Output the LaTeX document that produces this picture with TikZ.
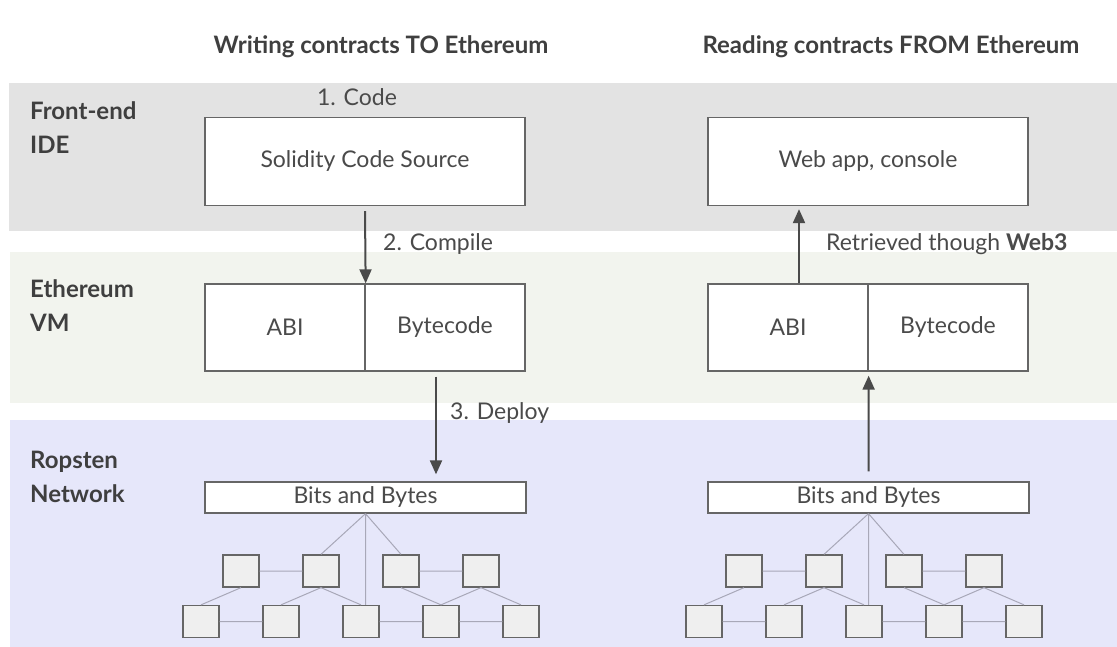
\documentclass[tikz,border=0pt]{standalone}
\usepackage{fontspec}
\setmainfont{Lato}
\usetikzlibrary{arrows.meta,calc}
\definecolor{bandgrey}{HTML}{E3E3E3}
\definecolor{bandgreen}{HTML}{F2F4EE}
\definecolor{bandblue}{HTML}{E6E7FA}
\definecolor{ink}{HTML}{4A4A4A}
\definecolor{edge}{HTML}{666666}
\definecolor{wire}{HTML}{A8A8B8}
\definecolor{peer}{HTML}{EFEFEF}

\begin{document}
\begin{tikzpicture}[x=1pt, y=-1pt,
        box/.style={draw=edge, line width=1.3pt, fill=white, inner sep=0pt, text=ink, font=\fontsize{23}{26}\selectfont},
        peerbox/.style={draw=edge, line width=1.3pt, fill=peer, minimum width=36pt, minimum height=32pt, inner sep=0pt},
        wireline/.style={draw=wire, line width=1pt},
        flow/.style={draw=ink, line width=2pt, -{Triangle[length=14pt,width=12pt]}},
        stepnote/.style={text=ink, font=\fontsize{23}{26}\selectfont, inner sep=0pt, anchor=base west},
        bandlabel/.style={text=ink!85!black, font=\fontsize{24}{33.5}\selectfont\bfseries, align=left, anchor=north west, inner sep=0pt},
        coltitle/.style={text=ink!85!black, font=\fontsize{24}{28}\selectfont\bfseries, inner sep=0pt, anchor=base}]
        \useasboundingbox (0,0) rectangle (1117,647);

        \fill[bandgrey] (9,83) rectangle (1117,231);
        \fill[bandgreen] (10,252) rectangle (1117,403);
        \fill[bandblue] (10,420) rectangle (1117,647);

        \node[coltitle] (wtitle) at (381,54) {Writing contracts TO Ethereum};
        \node[coltitle] (rtitle) at (891,54) {Reading contracts FROM Ethereum};

        \node[bandlabel] (ide) at (30,101.5) {Front-end\\IDE};
        \node[bandlabel] (evm) at (30,279.5) {Ethereum\\VM};
        \node[bandlabel] (net) at (30,451) {Ropsten\\Network};

        \node[box, minimum width=320pt, minimum height=88pt] (src) at (365,161.5) {Solidity Code Source};
        \node[stepnote, anchor=base] (code) at (357,106) {1. Code};
        \node[box, minimum width=160pt, minimum height=87pt] (labi) at (285,327.5) {ABI};
        \node[box, minimum width=160pt, minimum height=87pt] (lbyte) at (445,327.5) {Bytecode};
        \node[box, minimum width=321pt, minimum height=31pt] (lbits) at (365.5,497.5) {Bits and Bytes};

        \node[box, minimum width=320pt, minimum height=88pt] (webapp) at (868,161.5) {Web app, console};
        \node[box, minimum width=160pt, minimum height=87pt] (rabi) at (788,327.5) {ABI};
        \node[box, minimum width=160pt, minimum height=87pt] (rbyte) at (948,327.5) {Bytecode};
        \node[box, minimum width=321pt, minimum height=31pt] (rbits) at (868.5,497.5) {Bits and Bytes};

        \draw[flow] ($(src.south)+(0,5)$) -- (labi.north east);
        \node[stepnote] (compile) at (383,251) {2. Compile};
        \draw[flow] ($(lbyte.south)+(-9,5)$) -- ($(lbyte.south |- lbits.north)+(-9,-7)$);
        \node[stepnote] (deploy) at (450,419) {3. Deploy};

        \draw[flow] ($(rabi.north)+(11,0)$) -- ($(rabi.north |- webapp.south)+(11,3)$);
        \node[stepnote] (web3) at (826,251) {Retrieved though \textbf{Web3}};
        \draw[flow] ($(rbits.north)+(0,-10)$) -- ($(rabi.south east)+(0,4)$);

        \node[peerbox] (lt1) at (241,571) {};
        \node[peerbox] (lt2) at (321,571) {};
        \node[peerbox] (lt3) at (401,571) {};
        \node[peerbox] (lt4) at (481,571) {};
        \node[peerbox] (lb1) at (201,621.5) {};
        \node[peerbox] (lb2) at (281,621.5) {};
        \node[peerbox] (lb3) at (361,621.5) {};
        \node[peerbox] (lb4) at (441,621.5) {};
        \node[peerbox] (lb5) at (521,621.5) {};
        \draw[wireline] (lbits.south) -- (lt2.north) (lbits.south) -- (lt3.north) (lbits.south) -- (lbits.south |- lb3.north)
            (lt1) -- (lt2) (lt3) -- (lt4) (lb1) -- (lb2) (lb3) -- (lb4) (lb4) -- (lb5)
            (lt1.south) -- (lb1.north) (lt2.south) -- (lb2.north) (lt2.south) -- (lb3.north)
            (lt3.south) -- (lb4.north) (lt4.south) -- (lb4.north) (lt4.south) -- (lb5.north);

        \node[peerbox] (rt1) at (744,571) {};
        \node[peerbox] (rt2) at (824,571) {};
        \node[peerbox] (rt3) at (904,571) {};
        \node[peerbox] (rt4) at (984,571) {};
        \node[peerbox] (rb1) at (704,621.5) {};
        \node[peerbox] (rb2) at (784,621.5) {};
        \node[peerbox] (rb3) at (864,621.5) {};
        \node[peerbox] (rb4) at (944,621.5) {};
        \node[peerbox] (rb5) at (1024,621.5) {};
        \draw[wireline] (rbits.south) -- (rt2.north) (rbits.south) -- (rt3.north) (rbits.south) -- (rbits.south |- rb3.north)
            (rt1) -- (rt2) (rt3) -- (rt4) (rb1) -- (rb2) (rb3) -- (rb4) (rb4) -- (rb5)
            (rt1.south) -- (rb1.north) (rt2.south) -- (rb2.north) (rt2.south) -- (rb3.north)
            (rt3.south) -- (rb4.north) (rt4.south) -- (rb4.north) (rt4.south) -- (rb5.north);
    \end{tikzpicture}
\end{document}
